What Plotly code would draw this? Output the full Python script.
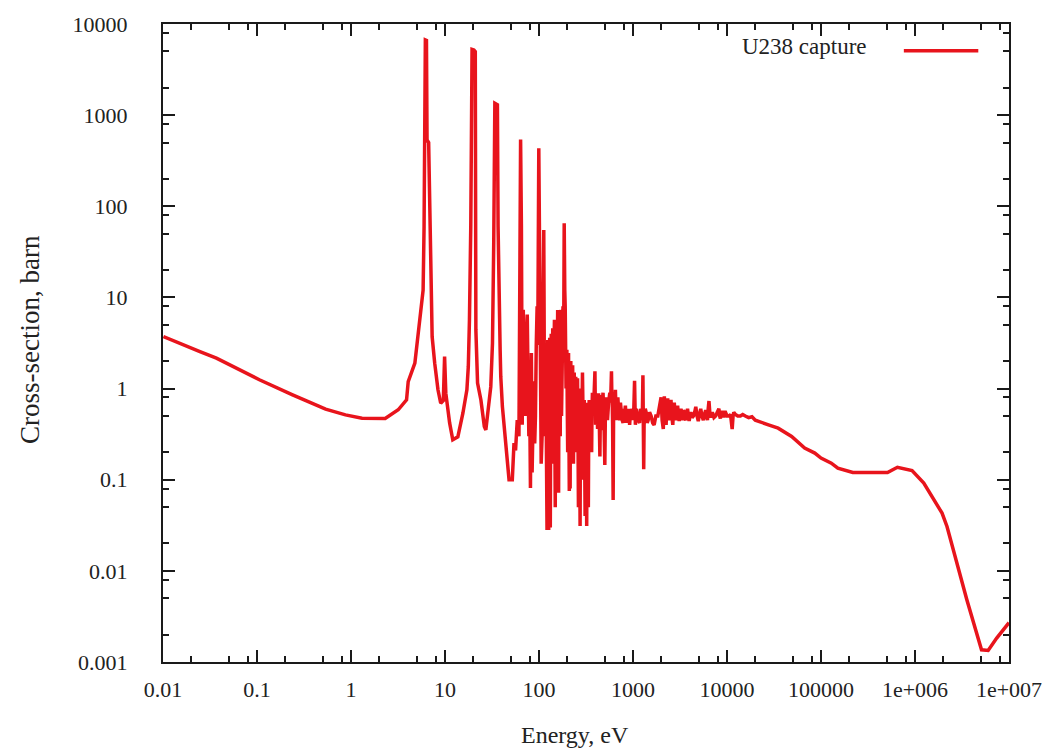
import plotly.graph_objects as go

# ---- data (energy in eV, capture cross-section in barn) ----
# thermal range and the first three resonances
thermal_energy = [
    0.0101, 0.0165, 0.0247, 0.037, 0.060, 0.106, 0.239, 0.358, 0.537, 0.873,
    1.31, 2.31, 3.18, 3.9, 4.06, 4.78, 5.18, 5.4, 5.85, 5.99,
    6.18, 6.35, 6.44, 6.7, 6.9, 7.15, 7.3, 7.77, 8.42, 9.0,
    9.6, 9.9, 10.2, 11.2, 12.1, 13.7, 15.5, 17.1, 17.7, 18.2,
    18.8, 19.4, 20.3, 21.0, 21.3, 22.2, 24.1, 26.2, 27.2, 30.7,
    32.0, 33.0, 33.9, 36.1, 36.7, 38.6, 39.2, 40.8, 44.3, 48.0,
]
thermal_xs = [
    3.72, 3.0, 2.55, 2.16, 1.67, 1.25, 0.853, 0.72, 0.594, 0.515,
    0.473, 0.47, 0.585, 0.752, 1.19, 1.9, 4.0, 6.5, 12.0, 60.0,
    6680.0, 6600.0, 535.0, 500.0, 60.0, 18.4, 3.7, 1.9, 0.97, 0.69,
    0.74, 2.24, 0.89, 0.42, 0.274, 0.295, 0.537, 0.97, 1.75, 5.7,
    60.0, 5280.0, 5200.0, 4970.0, 4.4, 1.15, 0.75, 0.383, 0.352, 1.05,
    3.15, 40.0, 1350.0, 1300.0, 60.0, 2.66, 1.35, 0.635, 0.231, 0.10,
]

# dense resolved-resonance range
resolved_energy = [
    52.0, 54.2, 56.3, 58.7, 61.2, 62.5, 63.7, 65.0, 66.3, 67.2,
    68.0, 70.0, 72.0, 73.5, 75.0, 76.5, 78.0, 79.5, 81.1, 82.0,
    83.0, 84.5, 86.0, 88.0, 90.0, 91.7, 93.5, 95.5, 97.0, 99.5,
    101.0, 102.2, 103.5, 105.5, 107.9, 110.0, 112.4, 114.0, 115.5, 116.9,
    118.5, 120.0, 121.7, 123.0, 124.0, 125.5, 126.8, 128.5, 130.0, 131.0,
    131.9, 133.5, 135.0, 136.2, 137.4, 139.0, 140.0, 141.5, 143.1, 144.5,
    146.0, 147.5, 148.9, 150.5, 152.0, 153.5, 155.1, 156.5, 158.0, 159.8,
    161.6, 163.3, 165.0, 166.6, 168.2, 170.0, 172.0, 173.6, 175.2, 177.5,
    180.0, 182.5, 185.4, 188.0, 190.0, 194.0, 197.9, 200.0, 202.0, 204.0,
    206.2, 208.0, 210.0, 212.0, 214.4, 216.0, 218.0, 220.5, 223.3, 225.5,
    228.0, 230.0, 232.6, 235.0, 237.0, 239.5, 242.1, 244.0, 246.0, 249.0,
    252.2, 254.5, 257.0, 260.0, 262.7, 265.0, 268.0, 271.0, 273.6, 276.0,
    278.0, 281.5, 285.0, 287.5, 290.0, 293.5, 296.9, 300.0, 303.0, 306.0,
    309.3, 312.0, 315.0, 318.5, 321.6, 325.0, 328.0, 331.5, 335.0, 338.5,
    342.0, 345.5, 348.6, 352.0, 355.0, 359.0, 363.1, 366.5, 370.0, 374.0,
    378.2, 385.0, 393.6, 397.0, 400.0, 405.0, 410.0, 415.0, 420.0, 425.0,
    430.0, 437.0, 444.4, 450.0, 455.0, 459.0, 463.0, 471.0, 480.0, 490.0,
    501.5, 508.0, 515.0, 525.0, 535.0, 550.0, 566.7, 578.0, 590.3, 595.0,
    600.0, 607.0, 614.8, 622.0, 630.0, 640.0, 650.0, 658.0, 667.0, 678.0,
    690.0, 705.0, 722.6, 735.0, 750.0, 767.0, 784.6, 797.0, 810.0, 830.0,
    849.6, 865.0, 880.0, 900.0, 921.1, 940.0, 960.0, 980.0,
]
resolved_xs = [
    0.10, 0.252, 0.21, 0.45, 0.3, 7.0, 540.0, 60.0, 0.4, 2.5,
    7.3, 0.9, 0.5, 3.0, 6.5, 1.2, 0.3, 0.9, 0.081, 0.6,
    2.45, 0.12, 0.5, 1.2, 0.25, 0.5, 3.0, 8.0, 3.0, 434.0,
    60.0, 5.0, 1.2, 0.15, 0.3, 2.0, 55.0, 1.5, 0.6, 0.3,
    1.2, 0.05, 0.028, 1.5, 3.4, 0.2, 0.028, 2.0, 3.6, 0.4,
    0.03, 1.2, 4.0, 0.15, 0.35, 2.5, 4.6, 0.6, 0.2, 3.0,
    5.7, 0.3, 0.05, 2.2, 4.6, 0.15, 0.5, 3.5, 7.3, 0.4,
    0.072, 2.8, 5.7, 0.9, 0.3, 3.3, 7.3, 0.5, 1.0, 3.0,
    8.0, 2.0, 65.0, 12.0, 8.0, 1.0, 2.66, 0.6, 0.2, 1.2,
    2.45, 0.4, 0.075, 0.9, 0.08, 0.7, 2.0, 0.3, 0.5, 1.1,
    1.8, 0.5, 0.15, 0.8, 1.5, 0.6, 0.3, 0.9, 1.35, 0.5,
    0.2, 0.7, 1.3, 0.3, 0.05, 0.6, 1.0, 0.3, 0.031, 0.5,
    0.9, 0.4, 0.1, 0.7, 1.5, 0.6, 0.2, 0.55, 0.75, 0.3,
    0.04, 0.5, 0.7, 0.3, 0.031, 0.45, 0.6, 0.25, 0.05, 0.5,
    0.75, 0.45, 0.3, 0.6, 0.7, 0.45, 0.2, 0.6, 0.9, 0.6,
    0.5, 0.8, 1.55, 0.7, 0.4, 0.6, 0.89, 0.5, 0.36, 0.6,
    0.89, 0.5, 0.18, 0.6, 0.85, 0.5, 0.35, 0.7, 0.9, 0.5,
    0.145, 0.5, 0.8, 0.6, 0.45, 0.7, 0.9, 0.7, 1.55, 0.9,
    0.8, 0.4, 0.06, 0.6, 0.9, 0.6, 0.97, 0.6, 0.45, 0.6,
    0.8, 0.55, 0.45, 0.7, 0.55, 0.45, 0.42, 0.6, 0.5, 0.65,
    0.42, 0.55, 0.45, 0.6, 0.4, 0.55, 0.5, 0.6,
]

# unresolved range (noisy band)
unresolved_energy = [
    1000.0, 1020.0, 1039.0, 1050.0, 1060.0, 1080.0, 1100.0, 1135.0, 1174.0, 1200.0,
    1230.0, 1255.0, 1275.0, 1290.0, 1300.0, 1312.0, 1325.0, 1350.0, 1380.0, 1415.0,
    1449.0, 1500.0, 1559.0, 1620.0, 1678.0, 1750.0, 1836.0, 1910.0, 1990.0, 2040.0,
    2100.0, 2130.0, 2155.0, 2200.0, 2250.0, 2290.0, 2339.0, 2390.0, 2440.0, 2490.0,
    2536.0, 2590.0, 2650.0, 2700.0, 2749.0, 2810.0, 2870.0, 2930.0, 2986.0, 3040.0,
    3100.0, 3170.0, 3237.0, 3300.0, 3370.0, 3440.0, 3508.0, 3580.0, 3650.0, 3730.0,
    3806.0, 3880.0, 3960.0, 4040.0, 4125.0, 4260.0, 4400.0, 4530.0, 4656.0, 4800.0,
    4950.0, 5100.0, 5253.0, 5420.0, 5600.0, 5760.0, 5926.0, 6060.0, 6200.0, 6310.0,
    6429.0, 6560.0, 6700.0, 6840.0, 6985.0, 7270.0, 7570.0, 7880.0, 8203.0, 8350.0,
    8500.0, 8700.0, 8895.0, 9100.0, 9300.0, 9470.0, 9640.0, 10000.0, 10450.0, 10900.0,
    11350.0, 11600.0, 11800.0, 12300.0, 13000.0, 13880.0, 14700.0, 15660.0, 17000.0, 18430.0,
]
unresolved_xs = [
    0.45, 0.6, 1.22, 0.5, 0.4, 0.6, 0.5, 0.45, 0.42, 0.6,
    0.55, 0.45, 1.4, 0.6, 0.13, 0.4, 0.5, 0.6, 0.55, 0.42,
    0.45, 0.55, 0.5, 0.42, 0.4, 0.5, 0.5, 0.6, 0.8, 0.45,
    0.36, 0.6, 0.82, 0.5, 0.4, 0.6, 0.78, 0.5, 0.45, 0.62,
    0.75, 0.5, 0.4, 0.6, 0.7, 0.5, 0.45, 0.58, 0.65, 0.5,
    0.44, 0.52, 0.6, 0.5, 0.45, 0.58, 0.55, 0.47, 0.45, 0.55,
    0.6, 0.5, 0.44, 0.5, 0.55, 0.48, 0.5, 0.55, 0.63, 0.5,
    0.44, 0.52, 0.6, 0.5, 0.45, 0.52, 0.58, 0.5, 0.45, 0.6,
    0.73, 0.55, 0.48, 0.52, 0.55, 0.48, 0.5, 0.55, 0.6, 0.5,
    0.47, 0.52, 0.57, 0.5, 0.5, 0.55, 0.55, 0.5, 0.5, 0.52,
    0.36, 0.5, 0.55, 0.52, 0.5, 0.5, 0.52, 0.5, 0.48, 0.49,
]

# fast range
fast_energy = [
    20000.0, 27600.0, 35000.0, 48700.0, 67000.0, 85900.0, 100000.0, 128800.0, 151000.0, 218000.0,
    510000.0, 650000.0, 930000.0, 1.24e6, 1.58e6, 1.94e6, 2.19e6, 2.79e6, 3.56e6, 5.1e6,
    6.0e6, 7.4e6, 1.0e7,
]
fast_xs = [
    0.45, 0.40, 0.368, 0.298, 0.222, 0.196, 0.173, 0.152, 0.134, 0.12,
    0.12, 0.137, 0.126, 0.092, 0.060, 0.043, 0.0307, 0.0122, 0.00482, 0.00136,
    0.00134, 0.00183, 0.0027,
]

x_tick_vals = [0.01, 0.1, 1, 10, 100, 1000, 10000, 100000, 1e6, 1e7]
x_tick_text = ["0.01", "0.1", "1", "10", "100", "1000", "10000", "100000", "1e+006", "1e+007"]
y_tick_vals = [0.001, 0.01, 0.1, 1, 10, 100, 1000, 10000]
y_tick_text = ["0.001", "0.01", "0.1", "1", "10", "100", "1000", "10000"]
minor_factors = [2, 5, 8]

series_name = "U238 capture"
x_title = "Energy, eV"
y_title = "Cross-section, barn"

segments = [
    (thermal_energy, thermal_xs),
    (resolved_energy, resolved_xs),
    (unresolved_energy, unresolved_xs),
    (fast_energy, fast_xs),
]
energy_ev, capture_barn = [], []
for e_list, s_list in segments:
    assert len(e_list) == len(s_list)
    energy_ev += e_list
    capture_barn += s_list

# ---- figure ----
line_color = "#e8141c"
axis_color = "#1a1a1a"
text_color = "#222222"
font_family = "Liberation Serif, Times New Roman, serif"

x_minor = [m * v for v in x_tick_vals[:-1] for m in minor_factors]
y_minor = [m * v for v in y_tick_vals[:-1] for m in minor_factors]

fig = go.Figure()
fig.add_trace(go.Scatter(
    x=energy_ev, y=capture_barn, mode="lines", name=series_name,
    line=dict(color=line_color, width=3.5), showlegend=False,
))

common_axis = dict(
    type="log", showgrid=False, zeroline=False,
    showline=True, linecolor=axis_color, linewidth=2, mirror="allticks",
    ticks="inside", ticklen=12, tickwidth=2, tickcolor=axis_color,
    tickfont=dict(family=font_family, size=22, color=text_color),
    tickmode="array",
)

fig.update_xaxes(
    **common_axis, range=[-2, 7], tickvals=x_tick_vals, ticktext=x_tick_text,
    ticklabelstandoff=7,
    minor=dict(tickmode="array", tickvals=x_minor, ticks="inside", ticklen=6,
               tickwidth=2, tickcolor=axis_color, showgrid=False),
)
fig.update_yaxes(
    **common_axis, range=[-3, 4], tickvals=y_tick_vals, ticktext=y_tick_text,
    ticklabelstandoff=29,
    minor=dict(tickmode="array", tickvals=y_minor, ticks="inside", ticklen=6,
               tickwidth=2, tickcolor=axis_color, showgrid=False),
)

# axis titles and gnuplot-style key (text to the left of the sample line)
fig.add_annotation(text=x_title, xref="paper", yref="paper", x=0.4865, y=-0.114,
                   showarrow=False, xanchor="center", yanchor="middle",
                   font=dict(family=font_family, size=24, color=text_color))
fig.add_annotation(text=y_title, xref="paper", yref="paper", x=-0.157, y=0.505,
                   showarrow=False, textangle=-90, xanchor="center", yanchor="middle",
                   font=dict(family=font_family, size=27, color=text_color))
fig.add_annotation(text=series_name, xref="paper", yref="paper", x=0.834, y=0.9655,
                   showarrow=False, xanchor="right", yanchor="middle",
                   font=dict(family=font_family, size=23, color=text_color))
fig.add_shape(type="line", xref="paper", yref="paper", x0=0.8757, x1=0.9637,
              y0=0.958, y1=0.958, line=dict(color=line_color, width=3.5))

fig.update_layout(
    width=1054, height=751,
    margin=dict(l=163, r=38, t=24, b=89),
    paper_bgcolor="white", plot_bgcolor="white",
    showlegend=False,
)

fig.write_html(
    "out.html",
    config={"displayModeBar": False},
    post_script="document.body.style.margin='0px';document.body.style.overflow='hidden';",
)
